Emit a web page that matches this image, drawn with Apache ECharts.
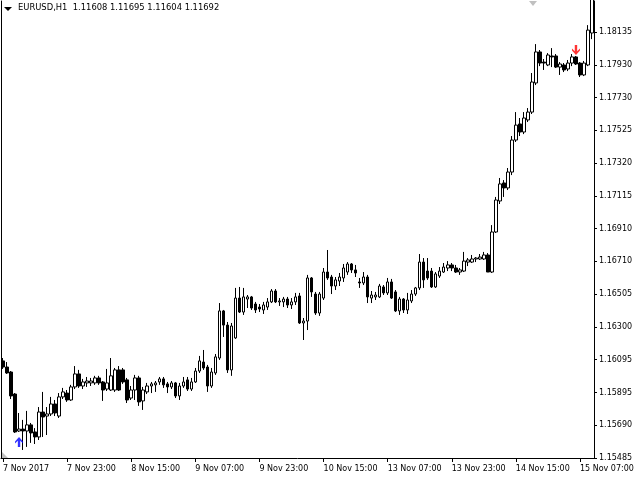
<!DOCTYPE html>
<html><head><meta charset="utf-8">
<script src="https://cdn.jsdelivr.net/npm/echarts@6/dist/echarts.min.js"></script>
<style>html,body{margin:0;padding:0;background:#fff}#c{width:640px;height:480px}</style>
</head><body><div id="c"></div>
<script>
const headerText = 'EURUSD,H1  1.11608 1.11695 1.11604 1.11692';

const opens = [
1.16089,1.16051,1.16020,1.15883,1.15653,1.15665,1.15653,1.15691,1.15647,1.15616,
1.15771,1.15746,1.15759,1.15821,1.15746,1.15865,1.15889,1.15846,1.15927,1.16008,
1.15933,1.15952,1.15952,1.15952,1.15983,1.15958,1.15914,1.15908,1.15908,1.16033,
1.16033,1.15971,1.15858,1.15908,1.15983,1.15840,1.15896,1.15933,1.15940,1.15958,
1.15977,1.15946,1.15927,1.15952,1.15871,1.15933,1.15971,1.15914,1.15958,1.16026,
1.16082,1.16051,1.15933,1.16014,1.16107,1.16400,1.16312,1.16033,1.16232,1.16480,
1.16393,1.16474,1.16487,1.16443,1.16424,1.16406,1.16424,1.16456,1.16524,1.16456,
1.16456,1.16474,1.16437,1.16456,1.16493,1.16325,1.16337,1.16605,1.16505,1.16387,
1.16480,1.16642,1.16611,1.16555,1.16586,1.16605,1.16642,1.16692,1.16655,1.16580,
1.16574,1.16611,1.16480,1.16487,1.16487,1.16549,1.16512,1.16580,1.16518,1.16400,
1.16474,1.16406,1.16462,1.16505,1.16543,1.16704,1.16648,1.16648,1.16549,1.16617,
1.16642,1.16667,1.16686,1.16667,1.16642,1.16648,1.16704,1.16704,1.16723,1.16723,
1.16723,1.16748,1.16642,1.16891,1.17084,1.17196,1.17165,1.17264,1.17463,1.17563,
1.17513,1.17588,1.17637,1.17818,1.18011,1.17948,1.17930,1.17986,1.17986,1.17917,
1.17930,1.17905,1.17942,1.17980,1.17942,1.17868,1.17930,1.18129];

const closes = [
1.16051,1.16014,1.15871,1.15647,1.15665,1.15653,1.15691,1.15641,1.15616,1.15771,
1.15740,1.15759,1.15821,1.15765,1.15865,1.15896,1.15846,1.15927,1.16008,1.15933,
1.15958,1.15964,1.15964,1.15983,1.15952,1.15908,1.15952,1.15996,1.16033,1.15908,
1.15958,1.15846,1.15908,1.15983,1.15834,1.15908,1.15933,1.15946,1.15952,1.15977,
1.15940,1.15927,1.15952,1.15871,1.15933,1.15958,1.15914,1.15958,1.16026,1.16089,
1.16045,1.15933,1.16020,1.16114,1.16400,1.16312,1.16033,1.16306,1.16480,1.16393,
1.16487,1.16487,1.16418,1.16406,1.16412,1.16437,1.16456,1.16524,1.16456,1.16462,
1.16474,1.16437,1.16456,1.16487,1.16325,1.16337,1.16605,1.16518,1.16387,1.16505,
1.16642,1.16605,1.16555,1.16593,1.16611,1.16667,1.16692,1.16655,1.16636,1.16574,
1.16611,1.16487,1.16499,1.16499,1.16555,1.16512,1.16580,1.16480,1.16400,1.16474,
1.16406,1.16468,1.16505,1.16543,1.16704,1.16593,1.16605,1.16549,1.16630,1.16648,
1.16673,1.16686,1.16667,1.16642,1.16655,1.16710,1.16717,1.16723,1.16729,1.16735,
1.16748,1.16642,1.16891,1.17090,1.17190,1.17165,1.17264,1.17463,1.17556,1.17513,
1.17600,1.17637,1.17824,1.18011,1.17942,1.17942,1.17992,1.17980,1.17917,1.17936,
1.17899,1.17942,1.17980,1.17936,1.17868,1.17942,1.18147,1.18365];

const lows = [
1.16039,1.16008,1.15852,1.15641,1.15647,1.15535,1.15554,1.15579,1.15572,1.15597,
1.15616,1.15628,1.15746,1.15746,1.15734,1.15852,1.15834,1.15840,1.15914,1.15921,
1.15914,1.15927,1.15933,1.15940,1.15940,1.15840,1.15902,1.15902,1.15896,1.15902,
1.15946,1.15827,1.15846,1.15846,1.15809,1.15784,1.15883,1.15889,1.15896,1.15940,
1.15921,1.15889,1.15914,1.15858,1.15846,1.15921,1.15902,1.15902,1.15952,1.16014,
1.16033,1.15896,1.15921,1.16002,1.16095,1.16238,1.16014,1.15996,1.16226,1.16387,
1.16375,1.16418,1.16406,1.16387,1.16393,1.16381,1.16406,1.16449,1.16449,1.16431,
1.16424,1.16418,1.16412,1.16437,1.16319,1.16219,1.16281,1.16487,1.16375,1.16369,
1.16468,1.16593,1.16505,1.16530,1.16555,1.16580,1.16624,1.16636,1.16611,1.16543,
1.16561,1.16449,1.16449,1.16468,1.16480,1.16499,1.16499,1.16474,1.16393,1.16375,
1.16387,1.16381,1.16449,1.16493,1.16530,1.16543,1.16593,1.16543,1.16543,1.16605,
1.16636,1.16648,1.16648,1.16636,1.16624,1.16642,1.16679,1.16698,1.16704,1.16717,
1.16717,1.16642,1.16636,1.16885,1.17065,1.17109,1.17152,1.17245,1.17451,1.17488,
1.17500,1.17575,1.17625,1.17805,1.17923,1.17899,1.17923,1.17917,1.17911,1.17868,
1.17886,1.17892,1.17923,1.17930,1.17855,1.17861,1.17923,1.18091];

const highs = [
1.16107,1.16082,1.16026,1.15889,1.15765,1.15722,1.15778,1.15703,1.15671,1.15802,
1.15896,1.15802,1.15865,1.15846,1.15889,1.15921,1.15908,1.15940,1.16057,1.16033,
1.15977,1.15989,1.15983,1.15996,1.15996,1.15964,1.16039,1.16107,1.16045,1.16057,
1.16045,1.15983,1.15933,1.16002,1.15996,1.15927,1.15952,1.15958,1.15964,1.15989,
1.15989,1.15958,1.15964,1.15958,1.15952,1.15989,1.15989,1.15983,1.16045,1.16120,
1.16157,1.16064,1.16045,1.16132,1.16449,1.16406,1.16331,1.16325,1.16543,1.16549,
1.16543,1.16499,1.16493,1.16456,1.16443,1.16456,1.16480,1.16536,1.16536,1.16480,
1.16487,1.16487,1.16480,1.16512,1.16512,1.16356,1.16624,1.16611,1.16518,1.16518,
1.16667,1.16779,1.16624,1.16611,1.16636,1.16692,1.16704,1.16698,1.16686,1.16605,
1.16642,1.16624,1.16524,1.16518,1.16568,1.16561,1.16605,1.16599,1.16530,1.16487,
1.16480,1.16512,1.16530,1.16549,1.16754,1.16729,1.16729,1.16667,1.16642,1.16673,
1.16698,1.16710,1.16698,1.16686,1.16667,1.16767,1.16729,1.16748,1.16735,1.16754,
1.16767,1.16760,1.16934,1.17109,1.17227,1.17214,1.17289,1.17488,1.17637,1.17600,
1.17637,1.17662,1.17880,1.18060,1.18023,1.17967,1.18004,1.18035,1.17998,1.17948,
1.17942,1.17961,1.17998,1.17986,1.17948,1.17955,1.18178,1.18396];

const xTickLabels = ['7 Nov 2017','7 Nov 23:00','8 Nov 15:00','9 Nov 07:00','9 Nov 23:00',
  '10 Nov 15:00','13 Nov 07:00','13 Nov 23:00','14 Nov 15:00','15 Nov 07:00'];
const xTickEvery = 16;

const yTickLabels = ['1.15485','1.15690','1.15895','1.16095','1.16300','1.16505','1.16710',
  '1.16910','1.17115','1.17320','1.17525','1.17730','1.17930','1.18135'];
const yMin = 1.15485;
const yMax = 1.18328;

const buyArrow = [4, 1.15585];
const sellArrow = [143, 1.18023];

const yInterval = (1.18135 - yMin) / (yTickLabels.length - 1);
const categories = opens.map((_, i) => String(i));
const candles = opens.map((o, i) => [o, closes[i], lows[i], highs[i]]);
const FONT = 'DejaVu Sans';
const tickShow = (idx) => idx % xTickEvery === 0;
const yFmt = (v) => {
  const k = Math.round((v - yMin) / yInterval);
  if (k < 0 || k >= yTickLabels.length) return '';
  if (Math.abs(v - (yMin + k * yInterval)) > yInterval * 0.01) return '';
  return yTickLabels[k];
};
const arrowPath = 'path://M4,0 L8,4.5 L8,6.5 L5.2,3.8 L5.2,10 L2.8,10 L2.8,3.8 L0,6.5 L0,4.5 Z';

const chart = echarts.init(document.getElementById('c'), null, {renderer: 'canvas'});
chart.setOption({
  animation: false,
  backgroundColor: '#ffffff',
  grid: {left: 1, right: 46, top: 1, bottom: 22, outerBoundsMode: 'none', containLabel: false},
  xAxis: {
    type: 'category', data: categories, boundaryGap: true,
    axisLine: {show: true, lineStyle: {color: '#000', width: 1}},
    axisTick: {show: true, length: 4, interval: tickShow, alignWithLabel: true, lineStyle: {color: '#000'}},
    axisLabel: {show: true, interval: tickShow, align: 'left', margin: 7, color: '#000',
      fontFamily: FONT, fontSize: 8,
      formatter: (v, idx) => xTickLabels[Math.floor(idx / xTickEvery)] || ''},
    splitLine: {show: false}
  },
  yAxis: [{
    type: 'value', position: 'right', min: yMin, max: yMax, interval: yInterval, scale: true,
    axisLine: {show: true, lineStyle: {color: '#000', width: 1}},
    axisTick: {show: true, length: 3, lineStyle: {color: '#000'}},
    axisLabel: {show: true, margin: 5, color: '#000', fontFamily: FONT, fontSize: 8,
      showMaxLabel: false, formatter: yFmt},
    splitLine: {show: false}
  }, {
    type: 'value', position: 'left', min: yMin, max: yMax, scale: true,
    axisLine: {show: true, lineStyle: {color: '#000', width: 1}},
    axisTick: {show: false}, axisLabel: {show: false}, splitLine: {show: false}
  }],
  series: [{
    type: 'candlestick', data: candles, barWidth: 3, clip: true,
    itemStyle: {color: '#ffffff', color0: '#000000', borderColor: '#000000', borderColor0: '#000000', borderWidth: 1}
  }, {
    type: 'scatter', data: [buyArrow], symbol: arrowPath, symbolSize: [8, 10],
    itemStyle: {color: '#0000ff'}, z: 5
  }, {
    type: 'scatter', data: [sellArrow], symbol: arrowPath, symbolSize: [8, 10], symbolRotate: 180,
    itemStyle: {color: '#ff0000'}, z: 5
  }],
  graphic: [
    {type: 'polygon', shape: {points: [[4, 7], [12, 7], [8, 11]]}, style: {fill: '#000'}, z: 10},
    {type: 'text', left: 18, top: 4, style: {text: headerText, fill: '#000', font: '8.4px "DejaVu Sans"'}, z: 10},
    {type: 'polygon', shape: {points: [[529, 1], [537, 1], [533, 6]]}, style: {fill: '#c0c0c0'}, z: 10},
    {type: 'polygon', shape: {points: [[2, 452], [2, 458], [8, 458]]}, style: {fill: '#c0c0c0'}, z: 10}
  ]
});
</script>
</body></html>
